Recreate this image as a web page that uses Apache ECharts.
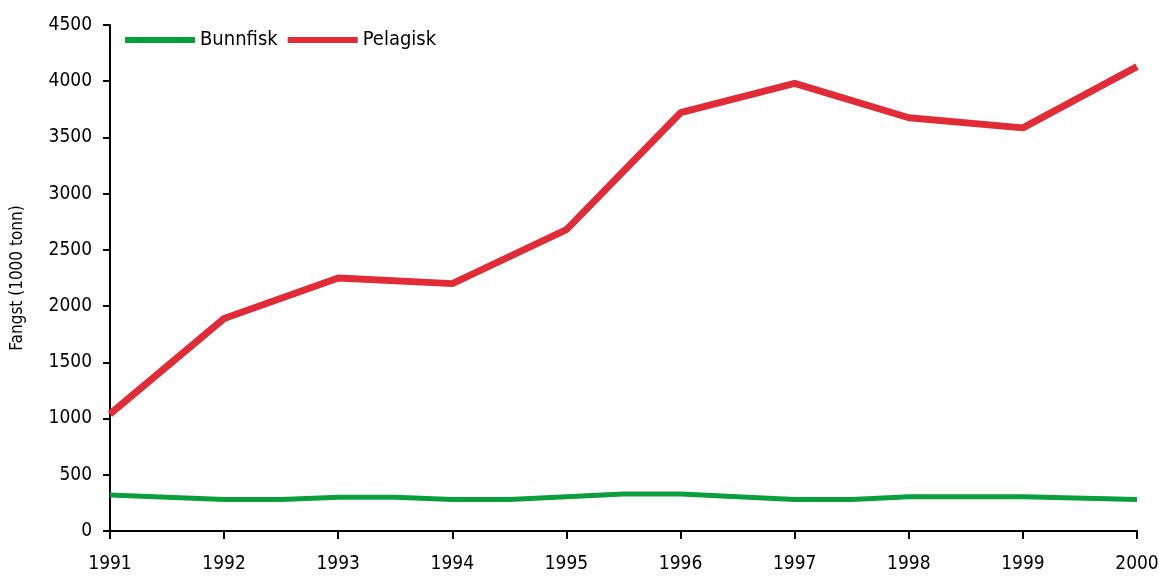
<!DOCTYPE html>
<html>
<head>
<meta charset="utf-8">
<script src="https://cdn.jsdelivr.net/npm/echarts@6/dist/echarts.min.js"></script>
<style>
html,body{margin:0;padding:0;background:#fff;}
#fangst{width:1159px;height:576px;}
</style>
</head>
<body>
<div id="fangst"></div>
<script>
// catch data (1000 tonn)
var bunnfiskYears = [1991, 1992, 1992.5, 1993, 1993.5, 1994, 1994.5, 1995, 1995.5, 1996, 1997, 1997.5, 1998, 1999, 2000];
var bunnfiskValues = [320, 280, 280, 300, 300, 280, 280, 305, 330, 330, 280, 280, 305, 305, 280];
var pelagiskYears = [1991, 1992, 1993, 1994, 1995, 1996, 1997, 1998, 1999, 2000];
var pelagiskValues = [1040, 1890, 2250, 2200, 2680, 3720, 3980, 3675, 3585, 4130];

function pairs(xs, ys){
    var res = [];
    for (var i = 0; i < xs.length; i++) {
        res.push([xs[i], ys[i]]);
    }
    return res;
}

var font = '"DejaVu Sans Condensed", "DejaVu Sans", sans-serif';
var myChart = echarts.init(document.getElementById('fangst'));
var option = {
    animation: false,
    grid: {
        left: 110,
        right: 22,
        top: 25,
        bottom: 45,
        containLabel: false,
        outerBoundsMode: 'none'
    },
    legend: {
        left: 120,
        top: 25,
        icon: 'rect',
        itemWidth: 70,
        itemHeight: 6,
        itemGap: 10,
        textStyle: {
            color: '#000',
            fontFamily: font,
            fontSize: 20
        },
        data: ['Bunnfisk', 'Pelagisk']
    },
    xAxis: {
        type: 'value',
        min: 1991,
        max: 2000,
        interval: 1,
        splitLine: {show: false},
        axisLine: {lineStyle: {color: '#000', width: 2}},
        axisTick: {length: 8, lineStyle: {color: '#000', width: 2}},
        axisLabel: {
            margin: 24,
            color: '#000',
            fontFamily: font,
            fontSize: 19,
            formatter: function (v) { return String(v); }
        }
    },
    yAxis: {
        type: 'value',
        min: 0,
        max: 4500,
        interval: 500,
        name: 'Fangst (1000 tonn)',
        nameLocation: 'middle',
        nameGap: 84,
        nameTextStyle: {
            color: '#000',
            fontFamily: font,
            fontSize: 17
        },
        splitLine: {show: false},
        axisLine: {show: true, lineStyle: {color: '#000', width: 2}},
        axisTick: {show: true, length: 7, lineStyle: {color: '#000', width: 2}},
        axisLabel: {
            margin: 18,
            color: '#000',
            fontFamily: font,
            fontSize: 19,
            formatter: function (v) { return String(v); }
        }
    },
    series: [
        {
            name: 'Bunnfisk',
            type: 'line',
            symbol: 'none',
            data: pairs(bunnfiskYears, bunnfiskValues),
            lineStyle: {color: '#0a9f3d', width: 5},
            itemStyle: {color: '#0a9f3d'}
        },
        {
            name: 'Pelagisk',
            type: 'line',
            symbol: 'none',
            data: pairs(pelagiskYears, pelagiskValues),
            lineStyle: {color: '#e12b36', width: 7},
            itemStyle: {color: '#e12b36'}
        }
    ]
};
myChart.setOption(option);

window.addEventListener("resize", function(){
    myChart.resize();
});
</script>
</body>
</html>
